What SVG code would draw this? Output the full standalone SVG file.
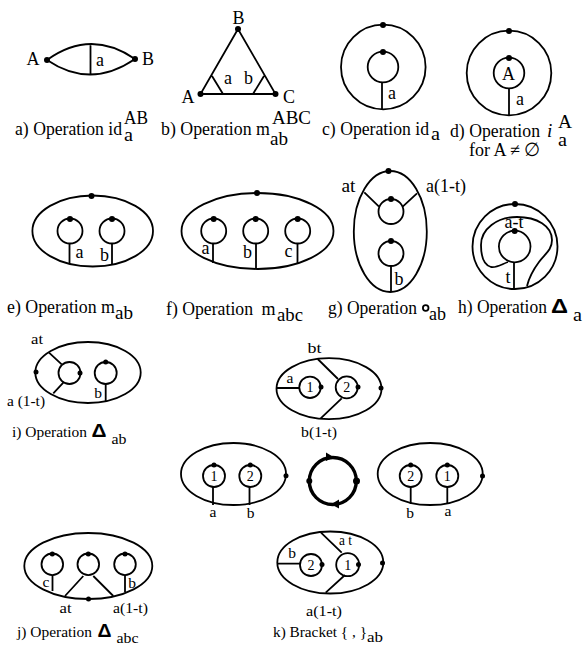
<svg xmlns="http://www.w3.org/2000/svg" width="588" height="650" viewBox="0 0 588 650">
<style>
text{font-family:"Liberation Serif","Times New Roman",serif;fill:#000;font-size:18px}
.m{text-anchor:middle}
.c{font-size:18.500px}
.s{font-size:15.500px}
.u{font-size:19px}
.n{font-size:14px}
.d{font-family:"Liberation Sans",sans-serif;font-weight:bold;font-size:21px}
.l{fill:none;stroke:#000;stroke-width:1.800}
.t{fill:none;stroke:#000;stroke-width:3.400}
.o{fill:#000;stroke:none}
</style>
<rect width="588" height="650" fill="#fff"/>
<g id="fig-a">
<path class="l" d="M47 60Q90.500 28.500 135 59M47 60Q90.500 89.500 135 59M90.500 44V74.500"/>
<circle class="o" cx="47" cy="60" r="3"/><circle class="o" cx="135" cy="59" r="3"/>
<text class="m" x="33" y="65">A</text><text class="m" x="148" y="65">B</text><text class="m" x="100" y="66">a</text>
<text class="c" x="15" y="135" textLength="107" lengthAdjust="spacingAndGlyphs">a) Operation id</text>
<text class="u" x="124" y="124" textLength="24" lengthAdjust="spacingAndGlyphs">AB</text>
<text class="u" x="124" y="141" textLength="9" lengthAdjust="spacingAndGlyphs">a</text>
</g>
<g id="fig-b">
<path class="l" d="M238 29L200.500 94H275.500ZM212 76L223 94M264 76L253 94"/>
<circle class="o" cx="238" cy="29" r="3"/><circle class="o" cx="200.500" cy="94" r="3"/><circle class="o" cx="275.500" cy="94" r="3"/>
<text class="m" x="238.500" y="24">B</text><text class="m" x="188" y="103">A</text><text class="m" x="289" y="103">C</text>
<text class="m" x="228" y="84">a</text><text class="m" x="248.500" y="84">b</text>
<text class="c" x="161" y="135" textLength="109" lengthAdjust="spacingAndGlyphs">b) Operation m</text>
<text class="u" x="272" y="124" textLength="39" lengthAdjust="spacingAndGlyphs">ABC</text>
<text class="u" x="270" y="144.500" textLength="18" lengthAdjust="spacingAndGlyphs">ab</text>
</g>
<g id="fig-c">
<circle class="l" cx="383.300" cy="67" r="42.300"/><circle class="l" cx="383" cy="67" r="15.300"/>
<path class="l" d="M382 82V109"/>
<circle class="o" cx="383" cy="25" r="3"/><circle class="o" cx="383" cy="52" r="3"/>
<text class="m" x="392" y="99">a</text>
<text class="c" x="322" y="135" textLength="107" lengthAdjust="spacingAndGlyphs">c) Operation id</text>
<text class="u" x="431" y="139.500" textLength="9" lengthAdjust="spacingAndGlyphs">a</text>
</g>
<g id="fig-d">
<circle class="l" cx="509" cy="73" r="42.300"/><circle class="l" cx="509" cy="73" r="15.300"/>
<path class="l" d="M509 88.500V115"/>
<circle class="o" cx="509" cy="31" r="3"/><circle class="o" cx="509" cy="58" r="3"/>
<text class="m" x="508.500" y="80">A</text><text class="m" x="520" y="105">a</text>
<text class="c" x="450" y="137" textLength="90" lengthAdjust="spacingAndGlyphs">d) Operation</text>
<text class="c" x="469" y="156" textLength="72" lengthAdjust="spacingAndGlyphs">for  A ≠ ∅</text>
<text class="u" x="547" y="137" font-style="italic">i</text>
<text class="u" x="558" y="128" textLength="14" lengthAdjust="spacingAndGlyphs">A</text>
<text class="u" x="558" y="146" textLength="9" lengthAdjust="spacingAndGlyphs">a</text>
</g>
<g id="fig-e">
<ellipse class="l" cx="92.700" cy="231" rx="60.300" ry="35.500"/>
<circle class="l" cx="70" cy="231" r="12.500"/><circle class="l" cx="112" cy="231" r="12.500"/>
<path class="l" d="M69.500 243.500V264M112 243.500V265"/>
<circle class="o" cx="91.500" cy="196" r="3"/><circle class="o" cx="70" cy="219" r="3"/><circle class="o" cx="112" cy="219" r="3"/>
<text class="m" x="79.500" y="258">a</text><text class="m" x="104.500" y="261">b</text>
<text class="c" x="7" y="312.500" textLength="108" lengthAdjust="spacingAndGlyphs">e) Operation m</text>
<text class="u" x="115" y="319" textLength="18" lengthAdjust="spacingAndGlyphs">ab</text>
</g>
<g id="fig-f">
<ellipse class="l" cx="257.500" cy="231" rx="76" ry="38"/>
<circle class="l" cx="213.700" cy="231" r="12.500"/><circle class="l" cx="255.700" cy="231" r="12.500"/><circle class="l" cx="297.700" cy="231" r="12.500"/>
<path class="l" d="M213 243.500V263M256 243.500V269M297.500 243.500V263"/>
<circle class="o" cx="257" cy="193" r="3"/><circle class="o" cx="213.700" cy="219" r="3"/><circle class="o" cx="255.700" cy="219" r="3"/><circle class="o" cx="297.700" cy="219" r="3"/>
<text class="m" x="205.500" y="254">a</text><text class="m" x="247.500" y="258">b</text><text class="m" x="288.500" y="257">c</text>
<text class="c" x="166" y="315" textLength="87" lengthAdjust="spacingAndGlyphs">f) Operation</text>
<text class="c" x="261.500" y="315" textLength="14" lengthAdjust="spacingAndGlyphs">m</text>
<text class="u" x="277" y="320.500" textLength="26" lengthAdjust="spacingAndGlyphs">abc</text>
</g>
<g id="fig-g">
<ellipse class="l" cx="390.300" cy="231.500" rx="36.500" ry="60.500"/>
<circle class="l" cx="391" cy="211.500" r="12.500"/><circle class="l" cx="391" cy="253.500" r="12.500"/>
<path class="l" d="M364.300 192.300L379 206.700M417 193.300L402.700 206.700M391 266V292"/>
<circle class="o" cx="388.500" cy="171" r="3"/><circle class="o" cx="391" cy="199" r="3"/><circle class="o" cx="391" cy="241" r="3"/>
<text class="m" x="348.500" y="191.500" textLength="14" lengthAdjust="spacingAndGlyphs">at</text><text class="m" x="446" y="191.500" textLength="40" lengthAdjust="spacingAndGlyphs">a(1-t)</text>
<text class="m" x="399" y="285">b</text>
<text class="c" x="328" y="314" textLength="89" lengthAdjust="spacingAndGlyphs">g) Operation</text>
<circle class="l" cx="425.700" cy="308" r="2.800"/>
<text class="u" x="429" y="320" textLength="17" lengthAdjust="spacingAndGlyphs">ab</text>
</g>
<g id="fig-h">
<circle class="l" cx="515" cy="246.500" r="42.500"/><circle class="l" cx="514.700" cy="246.500" r="15.800"/>
<path class="l" d="M514 262.300V289M508 262C502 264 497 268 491 267C484 265 481 256 481 245C481 229 497 217 517 217C537 217 552 226 552 240C552 250 545 254 539 262C533 270 529 278 527 286"/>
<circle class="o" cx="515" cy="204" r="3"/><circle class="o" cx="514.700" cy="231" r="3"/>
<text class="m" x="514" y="228" textLength="19" lengthAdjust="spacingAndGlyphs">a-t</text><text class="m" x="508" y="283">t</text>
<text class="c" x="458" y="313" textLength="89" lengthAdjust="spacingAndGlyphs">h) Operation</text>
<text class="d" x="551" y="313" textLength="17" lengthAdjust="spacingAndGlyphs">Δ</text>
<text class="u" x="573" y="320.500" textLength="9" lengthAdjust="spacingAndGlyphs">a</text>
</g>
<g id="fig-i">
<ellipse class="l" cx="88" cy="372.500" rx="52.700" ry="30.500"/>
<circle class="l" cx="69.500" cy="373" r="11"/><circle class="l" cx="105.700" cy="373" r="11"/>
<path class="l" d="M49 352.700L61.700 364.300M53.300 393.300L63.300 382.700M105.700 384V401"/>
<circle class="o" cx="36" cy="372" r="2.500"/><circle class="o" cx="80" cy="373" r="2.500"/><circle class="o" cx="105.700" cy="362" r="2.500"/>
<text class="m s" x="37" y="344" textLength="12" lengthAdjust="spacingAndGlyphs">at</text>
<text class="s" x="7" y="405.500" textLength="38" lengthAdjust="spacingAndGlyphs">a (1-t)</text>
<text class="m s" x="98" y="398">b</text>
<text class="s" x="12" y="437" textLength="75" lengthAdjust="spacingAndGlyphs">i) Operation</text>
<text class="d" x="91.500" y="437" style="font-size:18px" textLength="15" lengthAdjust="spacingAndGlyphs">Δ</text>
<text class="s" x="111.500" y="444" textLength="15" lengthAdjust="spacingAndGlyphs">ab</text>
</g>
<g id="fig-k-top">
<ellipse class="l" cx="329" cy="388.700" rx="52.500" ry="30.500"/>
<circle class="l" cx="310" cy="387.300" r="10.700"/><circle class="l" cx="346.700" cy="387.300" r="11"/>
<path class="l" d="M277 388H299.500M317.700 359L338 379M320.700 418.300L341.700 398.300"/>
<circle class="o" cx="321" cy="387" r="2.500"/><circle class="o" cx="358" cy="387" r="2.500"/><circle class="o" cx="381" cy="388" r="2.500"/>
<text class="m s" x="314.500" y="352.500" textLength="14" lengthAdjust="spacingAndGlyphs">bt</text>
<text class="m s" x="290" y="383">a</text>
<text class="m n" x="310" y="392">1</text><text class="m n" x="346.700" y="392">2</text>
<text class="m s" x="319" y="436.500" textLength="36" lengthAdjust="spacingAndGlyphs">b(1-t)</text>
</g>
<g id="fig-k-left">
<ellipse class="l" cx="233.500" cy="474" rx="52.500" ry="31"/>
<circle class="l" cx="214" cy="476" r="11"/><circle class="l" cx="250.300" cy="476" r="11"/>
<path class="l" d="M213 487V505M249.500 487V505"/>
<circle class="o" cx="214" cy="465" r="2.500"/><circle class="o" cx="250.300" cy="465" r="2.500"/><circle class="o" cx="286" cy="475.700" r="2.500"/>
<text class="m n" x="214" y="481">1</text><text class="m n" x="250.300" y="481">2</text>
<text class="m s" x="213" y="516.500">a</text><text class="m s" x="250.500" y="518">b</text>
</g>
<g id="fig-k-cycle">
<circle class="t" cx="332.800" cy="481" r="23.500"/>
<circle class="o" cx="309.300" cy="481" r="3"/><circle class="o" cx="356.500" cy="481" r="3.500"/>
<path class="o" d="M326 452.500L334 457.300L326 461ZM339 499.500L331 504.300L339 508.500Z"/>
</g>
<g id="fig-k-right">
<ellipse class="l" cx="430.200" cy="474" rx="52.500" ry="31"/>
<circle class="l" cx="410.700" cy="476" r="11"/><circle class="l" cx="447.300" cy="476" r="11"/>
<path class="l" d="M410.700 487V504M447.300 487V504"/>
<circle class="o" cx="410.700" cy="465" r="2.500"/><circle class="o" cx="447.300" cy="465" r="2.500"/><circle class="o" cx="482.500" cy="476" r="2.500"/>
<text class="m n" x="410.700" y="481">2</text><text class="m n" x="447.300" y="481">1</text>
<text class="m s" x="410" y="518">b</text><text class="m s" x="448" y="515.500">a</text>
</g>
<g id="fig-j">
<ellipse class="l" cx="88.300" cy="566" rx="64" ry="33"/>
<circle class="l" cx="52.300" cy="564.300" r="10.800"/><circle class="l" cx="88.300" cy="564.300" r="10.800"/><circle class="l" cx="125" cy="564.300" r="10.800"/>
<path class="l" d="M52.500 575V591M65 596L83.300 576M113.300 596L93.300 576M125 575V592"/>
<circle class="o" cx="52.300" cy="554" r="2.500"/><circle class="o" cx="88.300" cy="554" r="2.500"/><circle class="o" cx="125" cy="554" r="2.500"/><circle class="o" cx="88.500" cy="599" r="2.500"/>
<text class="m s" x="46" y="586.500">c</text><text class="m s" x="132" y="588">b</text>
<text class="m s" x="65.500" y="613" textLength="12" lengthAdjust="spacingAndGlyphs">at</text>
<text class="m s" x="130.500" y="613" textLength="35" lengthAdjust="spacingAndGlyphs">a(1-t)</text>
<text class="s" x="17" y="636.500" textLength="75" lengthAdjust="spacingAndGlyphs">j) Operation</text>
<text class="d" x="97.500" y="636.500" style="font-size:18px" textLength="14" lengthAdjust="spacingAndGlyphs">Δ</text>
<text class="s" x="116.500" y="643" textLength="22" lengthAdjust="spacingAndGlyphs">abc</text>
</g>
<g id="fig-k-bottom">
<ellipse class="l" cx="330.300" cy="562.500" rx="53" ry="31"/>
<circle class="l" cx="311" cy="565" r="11"/><circle class="l" cx="347.700" cy="564.700" r="11.500"/>
<path class="l" d="M278 563.700H300M321 532.700L341.700 552.700M325.700 592.700L345 575"/>
<circle class="o" cx="322" cy="564.500" r="2.500"/><circle class="o" cx="358.500" cy="564.500" r="2.500"/><circle class="o" cx="382.500" cy="563" r="2.500"/>
<text class="m s" x="292" y="558">b</text><text class="m s" x="345.500" y="545" textLength="13" lengthAdjust="spacingAndGlyphs">a t</text>
<text class="m n" x="311" y="570">2</text><text class="m n" x="347.700" y="570">1</text>
<text class="m s" x="324" y="615.500" textLength="36" lengthAdjust="spacingAndGlyphs">a(1-t)</text>
<text class="s" x="273" y="636.500" textLength="94" lengthAdjust="spacingAndGlyphs" xml:space="preserve">k) Bracket { , }</text>
<text class="s" x="367" y="641.500" textLength="16" lengthAdjust="spacingAndGlyphs">ab</text>
</g>
</svg>
